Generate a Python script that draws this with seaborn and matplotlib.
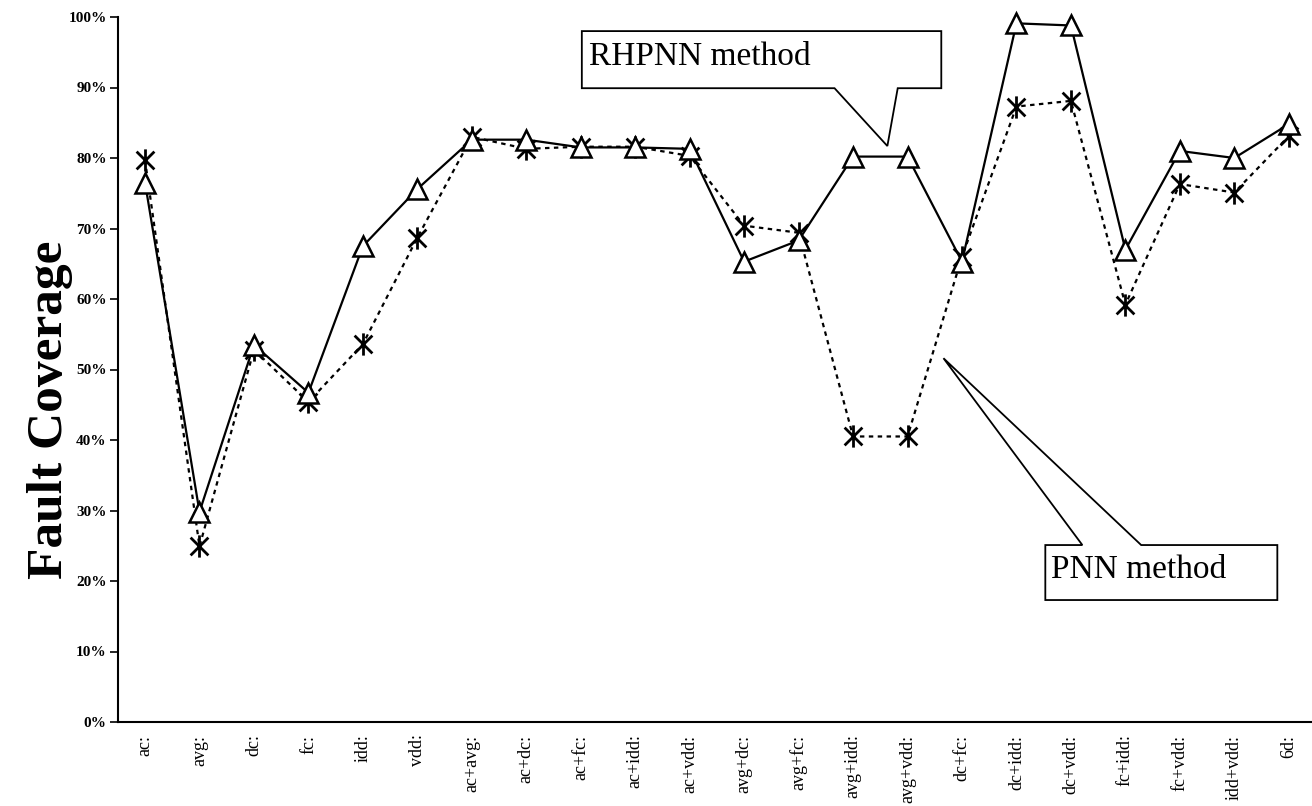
import numpy as np
import pandas as pd
import seaborn as sns
import matplotlib.pyplot as plt
from matplotlib.path import Path
from matplotlib.patches import Polygon

categories = ['ac:', 'avg:', 'dc:', 'fc:', 'idd:', 'vdd:', 'ac+avg:', 'ac+dc:', 'ac+fc:',
              'ac+idd:', 'ac+vdd:', 'avg+dc:', 'avg+fc:', 'avg+idd:', 'avg+vdd:', 'dc+fc:',
              'dc+idd:', 'dc+vdd:', 'fc+idd:', 'fc+vdd:', 'idd+vdd:', '6d:']
rhpnn = [76.5, 29.8, 53.5, 46.7, 67.5, 75.6, 82.6, 82.6, 81.5, 81.5, 81.3, 65.3, 68.3,
         80.2, 80.2, 65.3, 99.1, 98.8, 67.0, 81.0, 80.0, 84.8]
pnn = [79.7, 24.9, 52.8, 45.4, 53.6, 68.7, 83.0, 81.3, 81.6, 81.6, 80.3, 70.4, 69.4,
       40.5, 40.5, 66.0, 87.3, 88.1, 59.2, 76.3, 75.1, 83.1]
y_ticks = list(range(0, 101, 10))

df = pd.DataFrame({"Combination": categories, "RHPNN method": rhpnn, "PNN method": pnn})

sns.set_style("white")
plt.rcParams['font.family'] = ['Liberation Serif', 'DejaVu Serif']
plt.rcParams['text.color'] = 'black'
plt.rcParams['xtick.color'] = 'black'
plt.rcParams['ytick.color'] = 'black'
plt.rcParams['axes.labelcolor'] = 'black'

# star marker: vertical bar plus an X
star = Path([(0, -1), (0, 1), (-0.8, -0.8), (0.8, 0.8), (-0.8, 0.8), (0.8, -0.8)],
            [Path.MOVETO, Path.LINETO, Path.MOVETO, Path.LINETO, Path.MOVETO, Path.LINETO])

fig = plt.figure(figsize=(13.12, 8.06), dpi=100)
ax = fig.add_axes([117.8 / 1312, 84 / 806, (1316 - 117.8) / 1312, 705 / 806])

sns.lineplot(data=df, x="Combination", y="PNN method", sort=False, ax=ax, color="black",
             lw=1.6, linestyle=(0, (2, 2)), marker=star, markersize=16,
             markeredgewidth=2.0, markeredgecolor="black", zorder=3, clip_on=False)
sns.lineplot(data=df, x="Combination", y="RHPNN method", sort=False, ax=ax, color="black",
             lw=1.6, marker="^", markersize=15, markerfacecolor="white",
             markeredgecolor="black", markeredgewidth=1.8, zorder=4, clip_on=False)

ax.set_xlim(-0.5, len(categories) - 0.5)
ax.set_ylim(0, 100)
ax.set_yticks(y_ticks)
ax.set_yticklabels([f"{v}%" for v in y_ticks], fontsize=11, fontweight="bold")
ax.set_xticks(range(len(categories)))
ax.set_xticklabels(categories, rotation=90, fontsize=13)
ax.set_xticks(np.arange(-0.5, len(categories), 1), minor=True)
ax.tick_params(axis="x", which="major", length=0, pad=9)
ax.tick_params(axis="x", which="minor", length=6, width=1.2, color="black", direction="out")
ax.tick_params(axis="y", length=6, width=1.2, color="black", direction="out", left=True, pad=2)
ax.set_xlabel("")
ax.set_ylabel("Fault Coverage", fontsize=37, fontweight="bold")
ax.yaxis.set_label_coords(-0.037, 0.4426)
sns.despine(ax=ax)
for s in ["left", "bottom"]:
    ax.spines[s].set_color("black")
    ax.spines[s].set_linewidth(1.5)


def callout(pts, text, tx, ty):
    poly = Polygon(pts, closed=True, facecolor="white", edgecolor="black", lw=1.3,
                   zorder=5, clip_on=False)
    ax.add_patch(poly)
    ax.text(tx, ty, text, fontsize=24, color="black", va="baseline", ha="left",
            zorder=6, clip_on=False)


callout([(8.02, 98.0), (14.62, 98.0), (14.62, 89.9), (13.82, 89.9), (13.63, 81.7),
         (12.66, 89.9), (8.02, 89.9)], "RHPNN method", 8.15, 93.2)
callout([(16.53, 25.1), (17.21, 25.1), (14.66, 51.6), (18.29, 25.1), (20.79, 25.1),
         (20.79, 17.3), (16.53, 17.3)], "PNN method", 16.64, 20.4)

fig.savefig("out.png", dpi=100)
